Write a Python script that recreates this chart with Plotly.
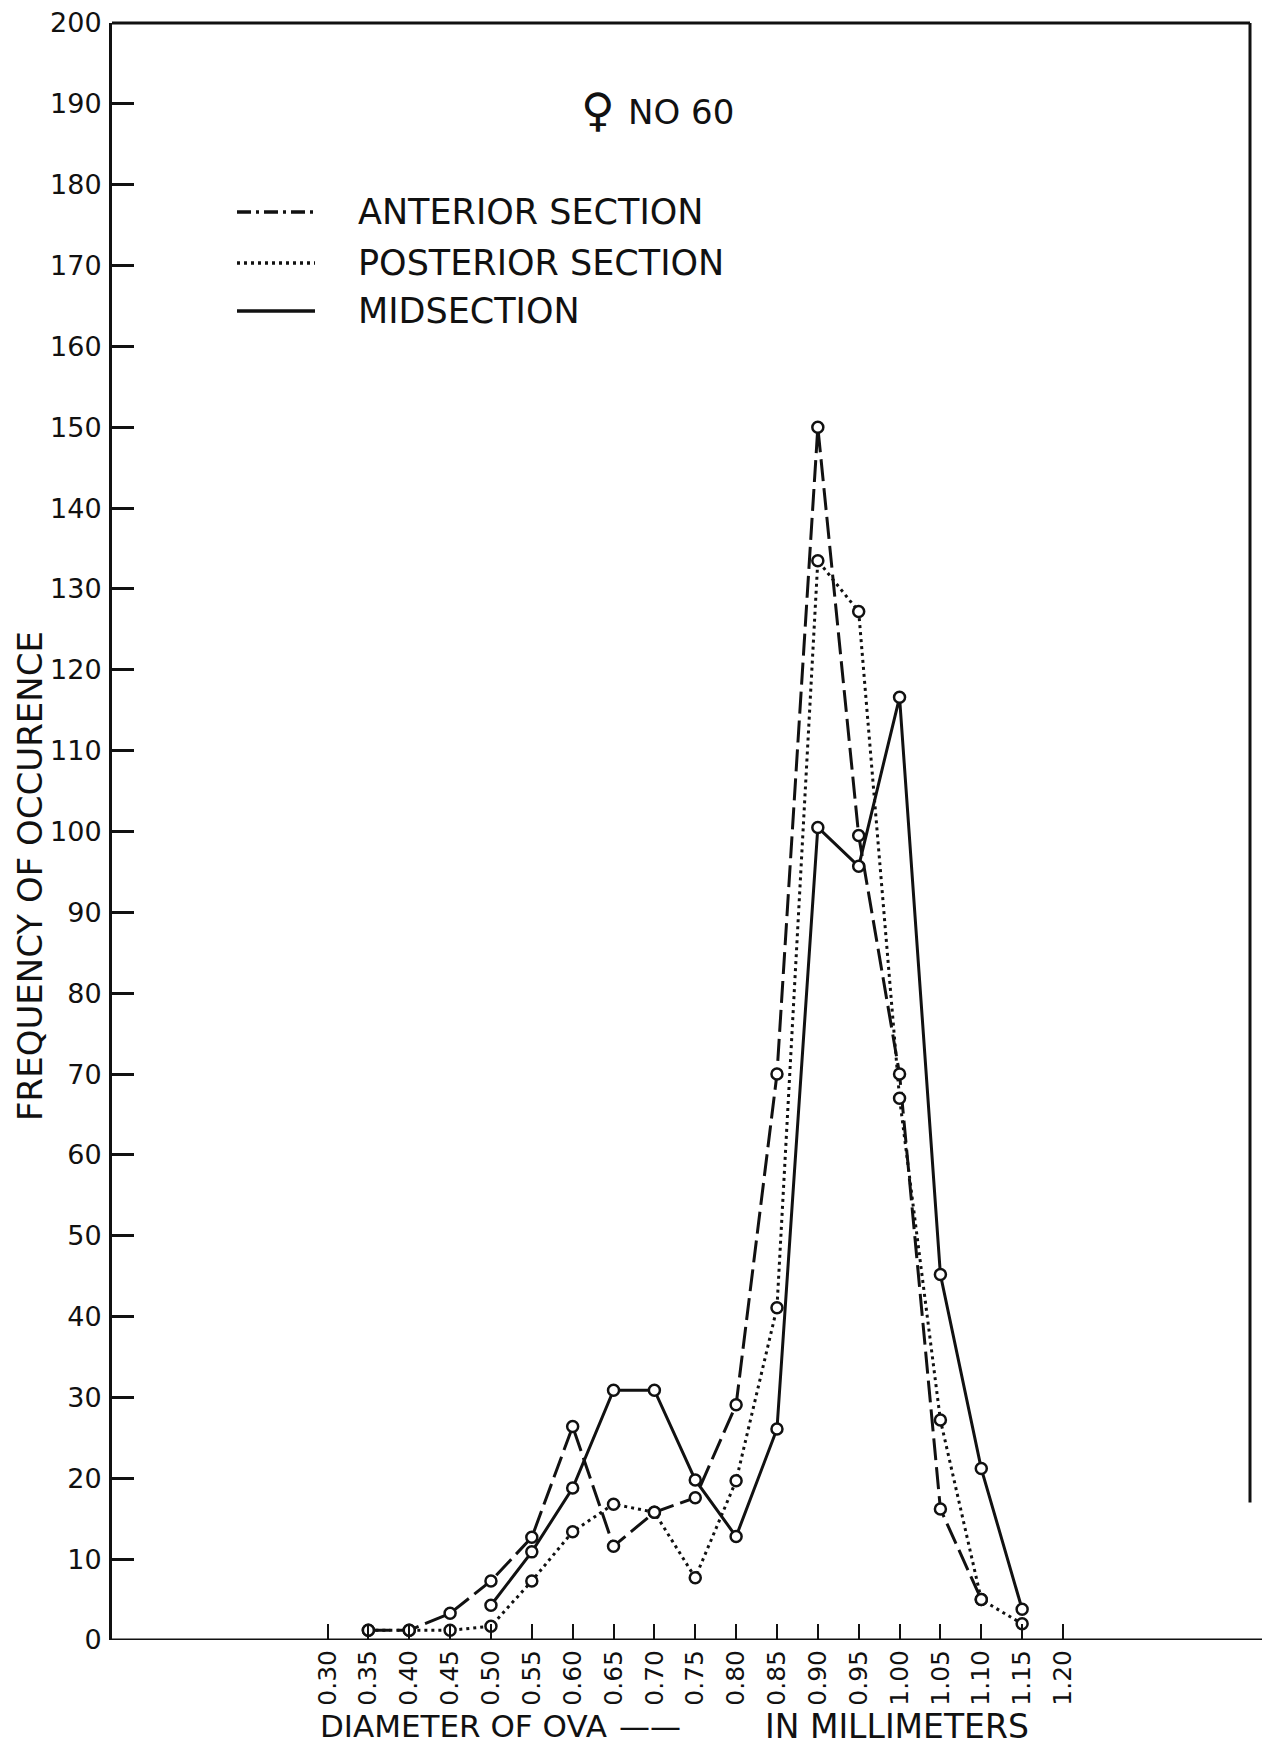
import plotly.graph_objects as go

# ---------------- data ----------------
diameters = [0.35, 0.40, 0.45, 0.50, 0.55, 0.60, 0.65, 0.70, 0.75, 0.80,
             0.85, 0.90, 0.95, 1.00, 1.05, 1.10, 1.15]
anterior = [1.2, 1.2, 3.3, 7.3, 12.7, 26.4, 11.6, 15.8, 17.6, 29.1,
            70.0, 150.0, 99.5, 70.0, 16.2, 5.0, None]
posterior = [1.2, 1.2, 1.2, 1.7, 7.3, 13.4, 16.8, 15.8, 7.7, 19.7,
             41.1, 133.5, 127.2, 67.0, 27.2, 5.0, 2.0]
midsection = [None, None, None, 4.3, 10.9, 18.8, 30.9, 30.9, 19.8, 12.8,
              26.1, 100.5, 95.7, 116.6, 45.2, 21.2, 3.8]

x_tick_vals = [0.30, 0.35, 0.40, 0.45, 0.50, 0.55, 0.60, 0.65, 0.70, 0.75,
               0.80, 0.85, 0.90, 0.95, 1.00, 1.05, 1.10, 1.15, 1.20]
x_tick_text = ["0.30", "0.35", "0.40", "0.45", "0.50", "0.55", "0.60", "0.65",
               "0.70", "0.75", "0.80", "0.85", "0.90", "0.95", "1.00", "1.05",
               "1.10", "1.15", "1.20"]
y_tick_vals = list(range(0, 201, 10))
y_tick_text = [str(v) for v in y_tick_vals]

series_names = ["ANTERIOR SECTION", "POSTERIOR SECTION", "MIDSECTION"]
title_sym = "\u2640"
title_text = "NO 60"
x_title_parts = ["DIAMETER OF OVA", "\u2014\u2014", "IN MILLIMETERS"]
y_title = "FREQUENCY OF OCCURENCE"

# ---------------- geometry ----------------
W, H = 1262, 1750
ML, MR, MT, MB = 112, 12, 23, 110
PW = W - ML - MR
PH = H - MT - MB
FONT = "DejaVu Sans"
INK = "#111111"


def px(xp):
    return (xp - ML) / PW


def py(yp):
    return (H - MB - yp) / PH


dash_ant = "22px,7px"
dash_post = "3px,4px"

fig = go.Figure()
styles = [(anterior, dash_ant), (posterior, dash_post), (midsection, "solid")]
for (vals, dsh), name in zip(styles, series_names):
    fig.add_trace(go.Scatter(
        x=diameters, y=vals, mode="lines", name=name,
        line=dict(color=INK, width=3, dash=dsh),
        connectgaps=False, cliponaxis=False, showlegend=False))
for (vals, dsh), name in zip(styles, series_names):
    fig.add_trace(go.Scatter(
        x=diameters, y=vals, mode="markers", name=name,
        marker=dict(symbol="circle", size=11, color="white",
                    line=dict(color=INK, width=2.5)),
        cliponaxis=False, showlegend=False))

x0 = 0.30 - (327.5 - ML) / 817.2
x1 = 1.20 + (ML + PW - 1063) / 817.2

fig.update_layout(
    width=W, height=H,
    margin=dict(l=ML, r=MR, t=MT, b=MB, pad=0),
    paper_bgcolor="white", plot_bgcolor="white",
    font=dict(family=FONT, color=INK),
    xaxis=dict(range=[x0, x1], tickmode="array", tickvals=x_tick_vals,
               ticktext=x_tick_text, ticks="inside", ticklen=16, tickwidth=2,
               tickcolor=INK, tickangle=-90, showline=False, showgrid=False,
               zeroline=False, tickfont=dict(size=25, family=FONT, color=INK),
               ticklabelstandoff=4, automargin=False),
    yaxis=dict(range=[0, 200], tickmode="array", tickvals=y_tick_vals,
               ticktext=y_tick_text, ticks="inside", ticklen=22, tickwidth=2.5,
               tickcolor=INK, showline=True, linewidth=3, linecolor=INK,
               showgrid=False, zeroline=False,
               tickfont=dict(size=27, family=FONT, color=INK),
               ticklabelstandoff=2, automargin=False),
)

# frame: top border, partial right border, extended bottom axis
fig.add_shape(type="line", xref="paper", yref="paper", x0=0, x1=1, y0=1, y1=1,
              line=dict(color=INK, width=3))
fig.add_shape(type="line", xref="paper", yref="y", x0=1, x1=1, y0=17, y1=200,
              line=dict(color=INK, width=3))
fig.add_shape(type="line", xref="paper", yref="y", x0=0, x1=px(1262), y0=0, y1=0,
              line=dict(color=INK, width=3))

# legend drawn by hand
leg_rows = [212, 263, 311]
leg_dash = ["14px,5px,3px,5px", dash_post, "solid"]
for name, row, dsh in zip(series_names, leg_rows, leg_dash):
    fig.add_shape(type="line", xref="paper", yref="paper",
                  x0=px(237), x1=px(315), y0=py(row), y1=py(row),
                  line=dict(color=INK, width=3.5, dash=dsh))
    fig.add_annotation(text=name, xref="paper", yref="paper",
                       x=px(356), y=py(row), xanchor="left", yanchor="middle",
                       showarrow=False, font=dict(size=35, family=FONT, color=INK))

# title
fig.add_annotation(text=title_sym, xref="paper", yref="paper",
                   x=px(598), y=py(110), xanchor="center", yanchor="middle",
                   showarrow=False, font=dict(size=46, family=FONT, color=INK))
fig.add_annotation(text=title_text, xref="paper", yref="paper",
                   x=px(626), y=py(112), xanchor="left", yanchor="middle",
                   showarrow=False, font=dict(size=34, family=FONT, color=INK))

# axis titles
x_lefts = [318, 617, 763]
x_sizes = [31, 31, 33]
for t, lx, fs in zip(x_title_parts, x_lefts, x_sizes):
    fig.add_annotation(text=t, xref="paper", yref="paper",
                       x=px(lx), y=py(1726), xanchor="left", yanchor="middle",
                       showarrow=False, font=dict(size=fs, family=FONT, color=INK))
fig.add_annotation(text=y_title, xref="paper", yref="paper",
                   x=px(30), y=py(876), xanchor="center", yanchor="middle",
                   textangle=-90, showarrow=False,
                   font=dict(size=34, family=FONT, color=INK))

fig.write_html("out.html",
               config={"displayModeBar": False},
               post_script="document.body.style.margin='0px';"
                           "document.body.style.overflow='hidden';")
